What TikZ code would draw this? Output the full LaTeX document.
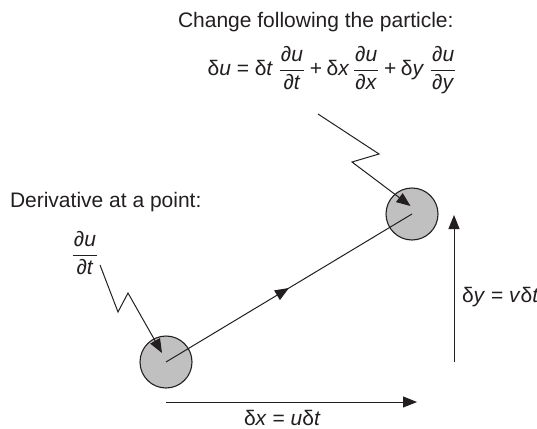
\documentclass[tikz,border=0pt]{standalone}
\usepackage{fontspec}
\setmainfont{Liberation Sans}
\usetikzlibrary{arrows.meta,decorations.markings}
\definecolor{ink}{RGB}{35,31,32}
\definecolor{pfill}{RGB}{192,192,192}
\newcommand{\pdfr}[2]{\displaystyle\frac{\mbox{\kern1pt∂\textit{#1}\kern1pt}}{\mbox{\kern1pt∂\textit{#2}\kern1pt}}}
\begin{document}
\begin{tikzpicture}[x=1pt,y=-1pt,
  every node/.style={inner sep=0pt,outer sep=0pt,text=ink,font=\fontsize{21}{25}\selectfont},
  particle/.style={circle,draw=ink,line width=1.1pt,fill=pfill,minimum size=52pt},
  conn/.style={draw=ink,line width=1pt,-{Triangle[length=14pt,width=11pt]}},
  plain/.style={draw=ink,line width=1pt},
  midarrow/.style={postaction={decorate},decoration={markings,
     mark=at position 0.5 with {\arrow{Triangle[length=14pt,width=11pt]}}}}]
\useasboundingbox (0,0) rectangle (537,428);
% texts
\node[anchor=base west] (title) at (178,28) {Change following the particle:};
\node (eq) at (332,70) {$\mbox{δ\textit{u}}\mathrel{\mbox{=}}\mbox{δ\textit{t}}\;\pdfr{u}{t}\mathbin{\mbox{+}}\mbox{δ\textit{x}}\,\pdfr{u}{x}\mathbin{\mbox{+}}\mbox{δ\textit{y}}\;\pdfr{u}{y}$};
\node[anchor=base west] (deriv) at (10,207) {Derivative at a point:};
\node (dudt) at (85,253) {$\pdfr{u}{t}$};
\node[anchor=base west] (dy) at (462,302) {δ\textit{y} = \textit{v}δ\textit{t}};
\node[anchor=base west] (dx) at (244,425) {δ\textit{x} = \textit{u}δ\textit{t}};
% particles
\node[particle] (p1) at (166,362) {};
\node[particle] (p2) at (412,214) {};
% path between particles
\draw[plain,midarrow] (p1.center) -- (p2.center);
% zigzag to upper particle
\coordinate (a1) at (318,114);
\coordinate (a2) at (379,154);
\coordinate (a3) at (352,162);
\coordinate (a4) at (410.5,206);
\draw[conn] (a1) -- (a2) -- (a3) -- (a4);
% zigzag to lower particle
\coordinate (b1) at (100,265);
\coordinate (b2) at (118,312);
\coordinate (b3) at (128,293);
\coordinate (b4) at (162,353);
\draw[conn] (b1) -- (b2) -- (b3) -- (b4);
% displacement arrows
\coordinate (v0) at (454,362);
\coordinate (v1) at (454,215);
\draw[conn] (v0) -- (v1);
\coordinate (h0) at (166,402);
\coordinate (h1) at (417,402);
\draw[conn] (h0) -- (h1);
\end{tikzpicture}
\end{document}
